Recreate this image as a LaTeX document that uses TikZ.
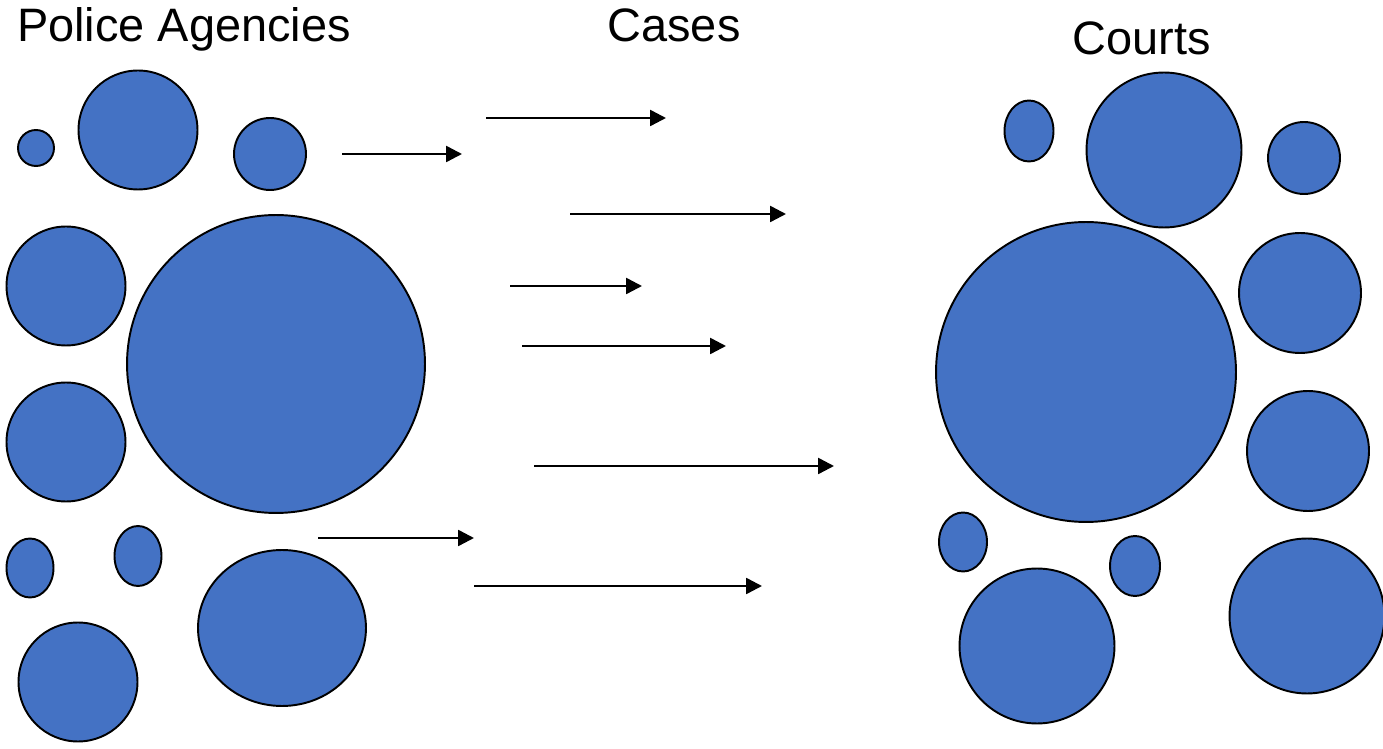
\documentclass[tikz,border=0pt]{standalone}
\usepackage{fontspec}
\setmainfont{Liberation Sans}
\usetikzlibrary{arrows.meta,positioning,shapes.geometric}
\definecolor{blobblue}{HTML}{4472C4}

\begin{document}
\begin{tikzpicture}[x=0.02cm, y=-0.02cm,
  blob/.style={ellipse, draw=black, fill=blobblue, line width=1.1pt, inner sep=0pt},
  title/.style={anchor=base, font=\fontsize{26.7}{32}\selectfont},
  case/.style={-{Triangle[length=9pt,width=9pt]}, line width=1.4pt}]
  \useasboundingbox (0,0) rectangle (1383,749);

  \node (ta) [title] at (184,42) {Police Agencies};
  \node (tc) [title] at (674,42) {Cases};
  \node (tj) [title] at (1142,55) {Courts};

  % police agencies
  \node (a1) [blob, minimum size=0.72cm] at (36,148) {};
  \node (a2) [blob, minimum size=2.38cm] at (138,130) {};
  \node (a3) [blob, minimum size=1.44cm] at (270,154) {};
  \node (a4) [blob, minimum size=2.38cm] at (66,286) {};
  \node (a5) [blob, minimum size=5.96cm] at (276,364) {};
  \node (a6) [blob, minimum size=2.38cm] at (66,442) {};
  \node (a7) [blob, minimum width=0.94cm, minimum height=1.18cm] at (30,568) {};
  \node (a8) [blob, minimum width=0.94cm, minimum height=1.2cm] at (138,556) {};
  \node (a9) [blob, minimum width=3.36cm, minimum height=3.12cm] at (282,628) {};
  \node (a10) [blob, minimum size=2.38cm] at (78,682) {};

  % courts
  \node (c1) [blob, minimum width=0.98cm, minimum height=1.22cm] at (1029,131) {};
  \node (c2) [blob, minimum size=3.1cm] at (1164,150) {};
  \node (c3) [blob, minimum size=1.44cm] at (1304,158) {};
  \node (c4) [blob, minimum size=6cm] at (1086,372) {};
  \node (c5) [blob, minimum width=2.44cm, minimum height=2.4cm] at (1300,293) {};
  \node (c6) [blob, minimum width=2.44cm, minimum height=2.4cm] at (1308,451) {};
  \node (c7) [blob, minimum width=0.96cm, minimum height=1.18cm] at (963,542) {};
  \node (c8) [blob, minimum width=1cm, minimum height=1.2cm] at (1135,566) {};
  \node (c9) [blob, minimum size=3.1cm] at (1037,646) {};
  \node (c10) [blob, minimum size=3.1cm] at (1307,616) {};

  % cases
  \coordinate (s1) at (342,154); \coordinate (e1) at (462,154);
  \coordinate (s2) at (486,118); \coordinate (e2) at (666,118);
  \coordinate (s3) at (570,214); \coordinate (e3) at (786,214);
  \coordinate (s4) at (510,286); \coordinate (e4) at (642,286);
  \coordinate (s5) at (522,346); \coordinate (e5) at (726,346);
  \coordinate (s6) at (534,466); \coordinate (e6) at (834,466);
  \coordinate (s7) at (318,538); \coordinate (e7) at (474,538);
  \coordinate (s8) at (474,586); \coordinate (e8) at (762,586);

  \path [case]
  (s1) edge (e1)
  (s2) edge (e2)
  (s3) edge (e3)
  (s4) edge (e4)
  (s5) edge (e5)
  (s6) edge (e6)
  (s7) edge (e7)
  (s8) edge (e8);
\end{tikzpicture}
\end{document}
